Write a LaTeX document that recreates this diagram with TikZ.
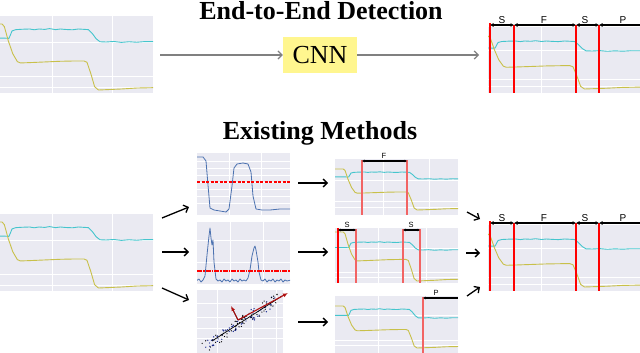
\documentclass[tikz,border=0pt]{standalone}
\usepackage{fontspec}
\setmainfont{Liberation Serif}
\newfontfamily\lblfont{Liberation Sans}
\usetikzlibrary{arrows.meta,fit}
\definecolor{plotbg}{HTML}{EAEAF2}
\definecolor{sigcyan}{HTML}{45C5CD}
\definecolor{sigyellow}{HTML}{C8C04A}
\definecolor{sigblue}{HTML}{4C72B0}
\definecolor{cnnfill}{HTML}{FFF68F}
\definecolor{arrowgray}{HTML}{808080}
\definecolor{boundred}{HTML}{F26464}
\definecolor{darkred}{HTML}{B01010}
\definecolor{dotblue}{HTML}{1A2A90}
\tikzset{
  plotbox/.style={inner sep=0pt, outer sep=0pt, fill=plotbg, draw=none},
  grid line/.style={white, line width=0.8pt},
  cyanline/.style={sigcyan, line width=0.9pt, line join=round},
  yellowline/.style={sigyellow, line width=0.9pt, line join=round},
  blueline/.style={sigblue, line width=0.8pt, line join=round},
  grayarrow/.style={arrowgray, line width=1.2pt, -{Straight Barb[length=4pt,width=8pt]}},
  blackarrow/.style={black, line width=1.3pt, -{Straight Barb[length=4pt,width=8pt]}},
  redbound/.style={red, line width=1.4pt},
  redboundthick/.style={red, line width=2.4pt},
  lightbound/.style={draw=boundred, line width=1.1pt},
  segline/.style={black, line width=1.4pt, {Latex[length=3.5pt,width=4pt]}-{Latex[length=3.5pt,width=4pt]}},
  segsmall/.style={black, line width=1.1pt, {Latex[length=2.5pt,width=3pt]}-{Latex[length=2.5pt,width=3pt]}},
  seglabel/.style={font=\lblfont\fontsize{10}{10}\selectfont, inner sep=0pt},
  seglabelsmall/.style={font=\lblfont\fontsize{7.5}{7.5}\selectfont, inner sep=0pt},
  titletext/.style={font=\bfseries\fontsize{26}{30}\selectfont, inner sep=0pt},
}
% signal pair: #1 x0, #2 width, #3 cyan high y, #4 cyan low y, #5 yellow start y, #6 yellow bottom y
\newcommand{\signalpair}[6]{%
  \pgfmathsetmacro\cyh{#4-#3}%
  \begin{scope}[shift={(#1,#3)}, xscale=#2, yscale=\cyh]
    \draw[cyanline] (-0.4,0.7) -- (0.03,0.7) -- (0.065,0.72) -- (0.075,0.45) -- (0.085,0.15) -- (0.11,0.05) -- (0.15,0.02) -- (0.2,0.0) -- (0.23,0.06) -- (0.26,0.0) -- (0.3,0.03) -- (0.33,-0.03) -- (0.37,0.05) -- (0.4,0.0) -- (0.44,0.04) -- (0.48,0.06) -- (0.52,0.0) -- (0.56,0.03) -- (0.585,0.05) -- (0.61,0.35) -- (0.635,0.75) -- (0.66,0.98) -- (0.7,1.0) -- (0.75,0.96) -- (0.8,1.03) -- (0.85,0.98) -- (0.9,1.02) -- (0.95,0.97) -- (1.3,1.0);
  \end{scope}
  \pgfmathsetmacro\ylh{#6-#5}%
  \begin{scope}[shift={(#1,#5)}, xscale=#2, yscale=\ylh]
    \draw[yellowline] (-0.4,0) -- (0.02,0) -- (0.035,0.04) -- (0.06,0.25) -- (0.09,0.45) -- (0.12,0.57) -- (0.14,0.59) -- (0.2,0.585) -- (0.3,0.575) -- (0.4,0.565) -- (0.5,0.56) -- (0.555,0.56) -- (0.575,0.58) -- (0.6,0.75) -- (0.625,0.95) -- (0.65,1.0) -- (0.7,0.995) -- (0.8,0.985) -- (0.9,0.97) -- (1.3,0.95);
  \end{scope}
}
\begin{document}
\begin{tikzpicture}[x=1pt,y=-1pt]
\useasboundingbox (0,0) rectangle (640,353);

% ---------- titles ----------
\node[titletext, anchor=base] (title1) at (321,20) {End-to-End Detection};
\node[titletext, anchor=base] (title2) at (320,139) {Existing Methods};

% ---------- top-left input plot ----------
\node[plotbox, fit={(0,16) (153,93)}] (inTop) {};
\begin{scope}
  \clip (inTop.north west) rectangle (inTop.south east);
  \draw[grid line] (52,16) -- (52,93) (112,16) -- (112,93);
  \draw[grid line] (0,42) -- (153,42) (0,76) -- (153,76) (0,87) -- (153,87);
  \signalpair{-1}{153}{29}{42}{24}{90}
\end{scope}

% ---------- CNN ----------
\node[fill=cnnfill, minimum width=74pt, minimum height=36pt, inner sep=0pt,
      font=\fontsize{26}{30}\selectfont] (cnn) at (320,55) {CNN};
\coordinate (inTopOut) at (160,55);
\coordinate (outTopIn) at (479,55);
\draw[grayarrow] (inTopOut) -- (cnn.west);
\draw[grayarrow] (cnn.east) -- (outTopIn);

% ---------- top-right output plot ----------
\node[plotbox, fit={(488,27) (640,93)}] (outTop) {};
\begin{scope}
  \clip (outTop.north west) rectangle (outTop.south east);
  \draw[grid line] (541,27) -- (541,93);
  \draw[grid line] (488,50) -- (640,50) (488,79) -- (640,79) (488,86) -- (640,86);
  \signalpair{485}{153}{41}{51}{36}{89}
\end{scope}
\draw[redboundthick] (490,23) -- (490,93);
\draw[redbound] (514,25) -- (514,93) (576,25) -- (576,93) (599,25) -- (599,93);
\draw[segline] (490,25) -- (514,25);
\draw[segline] (514,25) -- (576,25);
\draw[segline] (576,25) -- (599,25);
\draw[black, line width=1.4pt, {Latex[length=3.5pt,width=4pt]}-] (599,25) -- (640,25);
\node[seglabel] (lblS1) at (502,20) {S};
\node[seglabel] (lblF1) at (544,20) {F};
\node[seglabel] (lblS2) at (585,20) {S};
\node[seglabel] (lblP1) at (623,20) {P};

% ---------- bottom-left input plot ----------
\node[plotbox, fit={(0,214) (153,291)}] (inBot) {};
\begin{scope}
  \clip (inBot.north west) rectangle (inBot.south east);
  \draw[grid line] (52,214) -- (52,291) (112,214) -- (112,291);
  \draw[grid line] (0,240) -- (153,240) (0,274) -- (153,274) (0,285) -- (153,285);
  \signalpair{-1}{153}{227}{240}{222}{288}
\end{scope}

% ---------- middle column ----------
% threshold plot
\node[plotbox, fit={(197,153) (290,215)}] (thrPlot) {};
\begin{scope}
  \clip (thrPlot.north west) rectangle (thrPlot.south east);
  \draw[grid line] (229,153) -- (229,215) (261,153) -- (261,215);
  \foreach \gy in {161,168,175,182,189,196,203}
    \draw[white, line width=0.5pt] (197,\gy) -- (290,\gy);
  \draw[blueline] (196,157) -- (203,157) -- (206,161) -- (208,185) -- (210,208) -- (214,210) -- (220,211) -- (226,212) -- (229,209) -- (232,186) -- (234,168) -- (237,164) -- (243,163) -- (248,164) -- (251,172) -- (253,196) -- (256,209) -- (262,210) -- (270,210) -- (280,209) -- (291,209);
  \draw[red, line width=1.3pt, dash pattern=on 3pt off 1.5pt] (197,182) -- (290,182);
\end{scope}

% peak plot
\node[plotbox, fit={(197,222) (290,284)}] (peakPlot) {};
\begin{scope}
  \clip (peakPlot.north west) rectangle (peakPlot.south east);
  \draw[grid line] (230,222) -- (230,284) (263,222) -- (263,284);
  \draw[grid line] (197,240) -- (290,240) (197,262) -- (290,262);
  \draw[blueline] (196,281) -- (199,279) -- (201,282) -- (203,280) -- (205,276) -- (207,255) -- (209,236) -- (210,228) -- (211,238) -- (212,245) -- (213,240) -- (214,262) -- (216,279) -- (218,281) -- (220,280) -- (222,282) -- (224,279) -- (226,281) -- (228,280) -- (230,282) -- (232,279) -- (234,281) -- (236,280) -- (238,282) -- (240,279) -- (242,281) -- (244,280) -- (246,281) -- (248,278) -- (250,270) -- (252,256) -- (254,248) -- (255,246) -- (256,250) -- (258,262) -- (259,272) -- (261,280) -- (263,281) -- (265,279) -- (267,282) -- (269,280) -- (271,281) -- (273,279) -- (275,282) -- (277,280) -- (279,281) -- (281,279) -- (283,282) -- (285,280) -- (287,281) -- (291,280);
  \draw[red, line width=2.6pt, dash pattern=on 5pt off 1pt on 1.5pt off 1pt] (197,271) -- (290,271);
\end{scope}

% regression plot
\node[plotbox, fit={(197,290) (283,353)}] (regPlot) {};
\begin{scope}
  \clip (regPlot.north west) rectangle (regPlot.south east);
  \draw[grid line] (217,290) -- (217,353) (252,290) -- (252,353) (276,290) -- (276,353);
  \draw[grid line] (197,303) -- (283,303) (197,317) -- (283,317) (197,328) -- (283,328) (197,338) -- (283,338);
  \pgfmathsetseed{7}
  \foreach \i in {1,...,120} {
    \pgfmathsetmacro\tt{rnd}
    \pgfmathsetmacro\px{204+\tt*76+rand*3}
    \pgfmathsetmacro\py{347-\tt*50+rand*6}
    \pgfmathsetmacro\pc{rnd}
    \ifdim\pc pt<0.5pt
      \fill[dotblue] (\px,\py) circle (0.7pt);
    \else
      \fill[black] (\px,\py) circle (0.65pt);
    \fi
  }
  \draw[black, line width=0.7pt] (212,341) -- (282,296);
  \draw[black, line width=0.7pt] (233,310) -- (238,320) -- (247,316);
\end{scope}
\coordinate (regCenter) at (238,320);
\coordinate (regMajor) at (288,293);
\coordinate (regMinor) at (231,306);
\draw[darkred, line width=1.1pt, -{Latex[length=5pt,width=4pt]}] (regCenter) -- (regMajor);
\draw[darkred, line width=1.1pt, -{Latex[length=5pt,width=4pt]}] (regCenter) -- (regMinor);

% arrows from bottom-left input to middle column
\coordinate (inA) at (162,218);
\coordinate (inB) at (162,252);
\coordinate (inC) at (162,288);
\coordinate (thrIn) at (189,207);
\coordinate (peakIn) at (189,252);
\coordinate (regIn) at (189,300);
\draw[blackarrow] (inA) -- (thrIn);
\draw[blackarrow] (inB) -- (peakIn);
\draw[blackarrow] (inC) -- (regIn);

% ---------- right column ----------
% plot A (F)
\node[plotbox, fit={(335,159) (458,215)}] (plotF) {};
\begin{scope}
  \clip (plotF.north west) rectangle (plotF.south east);
  \draw[grid line] (383,159) -- (383,215) (429,159) -- (429,215);
  \draw[grid line] (335,180) -- (458,180) (335,201) -- (458,201) (335,207) -- (458,207);
  \signalpair{341}{117}{172}{179}{169}{210}
\end{scope}
\draw[lightbound] (362,160) -- (362,215);
\draw[lightbound] (407,160) -- (407,215);
\draw[segsmall] (362,161) -- (407,161);
\node[seglabelsmall] (lblF2) at (384,156) {F};

% plot B (S)
\node[plotbox, fit={(335,228) (458,283)}] (plotS) {};
\begin{scope}
  \clip (plotS.north west) rectangle (plotS.south east);
  \draw[grid line] (378,228) -- (378,283) (426,228) -- (426,283);
  \draw[grid line] (335,248) -- (458,248) (335,272) -- (458,272) (335,277) -- (458,277);
  \signalpair{341}{117}{242}{250}{232}{281}
\end{scope}
\draw[red, line width=1.6pt] (338,228) -- (338,283);
\draw[lightbound] (356,229) -- (356,283);
\draw[lightbound] (403,229) -- (403,283);
\draw[lightbound] (420,229) -- (420,283);
\draw[segsmall] (338,230) -- (356,230);
\draw[segsmall] (403,230) -- (420,230);
\node[seglabelsmall] (lblS3) at (347,225) {S};
\node[seglabelsmall] (lblS4) at (411,225) {S};

% plot C (P)
\node[plotbox, fit={(335,296) (458,353)}] (plotP) {};
\begin{scope}
  \clip (plotP.north west) rectangle (plotP.south east);
  \draw[grid line] (378,296) -- (378,353);
  \draw[grid line] (335,315) -- (458,315) (335,340) -- (458,340) (335,345) -- (458,345);
  \signalpair{341}{117}{309}{318}{306}{348}
\end{scope}
\draw[lightbound] (423,297) -- (423,353);
\draw[black, line width=1.4pt, {Latex[length=2.5pt,width=3pt]}-] (423,298) -- (458,298);
\node[seglabelsmall] (lblP2) at (436,293) {P};

% arrows middle -> right
\coordinate (thrOut) at (298,183);
\coordinate (peakOut) at (298,252);
\coordinate (regOut) at (298,322);
\coordinate (fIn) at (328,183);
\coordinate (sIn) at (328,252);
\coordinate (pIn) at (328,322);
\draw[blackarrow] (thrOut) -- (fIn);
\draw[blackarrow] (peakOut) -- (sIn);
\draw[blackarrow] (regOut) -- (pIn);

% ---------- bottom-right output plot ----------
\node[plotbox, fit={(488,225) (640,291)}] (outBot) {};
\begin{scope}
  \clip (outBot.north west) rectangle (outBot.south east);
  \draw[grid line] (541,225) -- (541,291);
  \draw[grid line] (488,248) -- (640,248) (488,277) -- (640,277) (488,284) -- (640,284);
  \signalpair{485}{153}{239}{249}{234}{287}
\end{scope}
\draw[redboundthick] (490,221) -- (490,291);
\draw[redbound] (514,223) -- (514,291) (576,223) -- (576,291) (599,223) -- (599,291);
\draw[segline] (490,223) -- (514,223);
\draw[segline] (514,223) -- (576,223);
\draw[segline] (576,223) -- (599,223);
\draw[black, line width=1.4pt, {Latex[length=3.5pt,width=4pt]}-] (599,223) -- (640,223);
\node[seglabel] (lblS5) at (502,218) {S};
\node[seglabel] (lblF3) at (544,218) {F};
\node[seglabel] (lblS6) at (585,218) {S};
\node[seglabel] (lblP3) at (623,218) {P};

% arrows right column -> output
\coordinate (fOut) at (467,212);
\coordinate (sOut) at (466,253);
\coordinate (pOut) at (467,296);
\coordinate (outIn1) at (480,219);
\coordinate (outIn2) at (480,253);
\coordinate (outIn3) at (480,287);
\draw[blackarrow] (fOut) -- (outIn1);
\draw[blackarrow] (sOut) -- (outIn2);
\draw[blackarrow] (pOut) -- (outIn3);
\end{tikzpicture}
\end{document}
